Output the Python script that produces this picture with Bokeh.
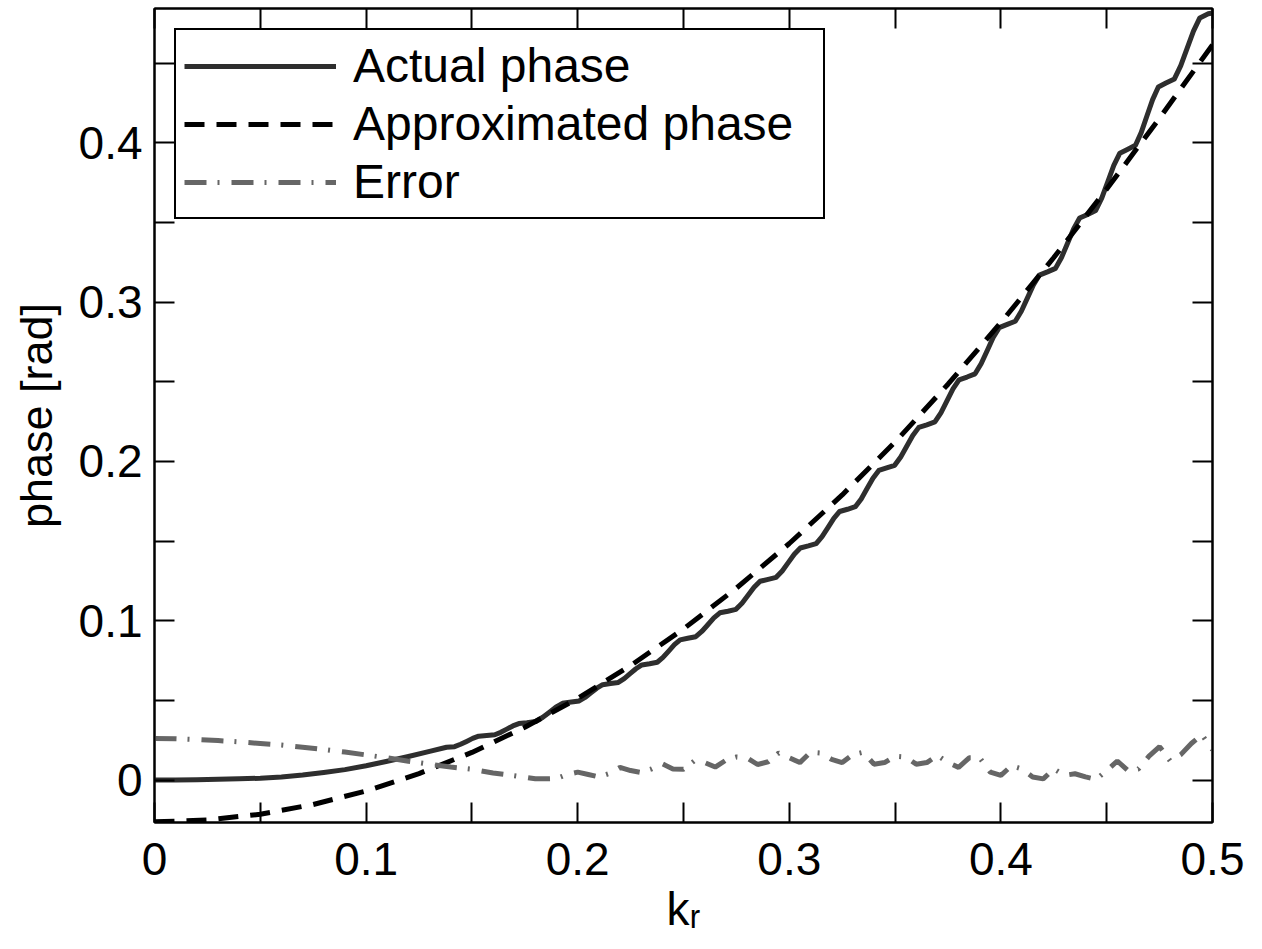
from bokeh.plotting import figure
from bokeh.models import (FixedTicker, LinearAxis, Legend, LegendItem, Range1d,
                          CustomLabelingPolicy)
from bokeh.embed import file_html
from bokeh.resources import INLINE

# ---- data ----
k_actual = [0.000, 0.010, 0.020, 0.030, 0.040, 0.050, 0.060, 0.070, 0.080, 0.090,
            0.100, 0.110, 0.120, 0.130,
            0.138, 0.1418, 0.14465, 0.1475, 0.15035, 0.1532,
            0.157, 0.1608, 0.16365, 0.1665, 0.16935, 0.1722,
            0.176, 0.1802, 0.18335, 0.1865, 0.18965, 0.1928,
            0.197, 0.2007, 0.20348, 0.20625, 0.20903, 0.2118,
            0.2155, 0.2192, 0.22198, 0.22475, 0.22753, 0.2303,
            0.234, 0.2376, 0.2403, 0.243, 0.2457, 0.2484,
            0.252, 0.2558, 0.25865, 0.2615, 0.26435, 0.2672,
            0.271, 0.2748, 0.27765, 0.2805, 0.28335, 0.2862,
            0.290, 0.2938, 0.29665, 0.2995, 0.30235, 0.3052,
            0.309, 0.3127, 0.31548, 0.31825, 0.32103, 0.3238,
            0.3275, 0.3312, 0.33398, 0.33675, 0.33953, 0.3423,
            0.346, 0.3498, 0.35265, 0.3555, 0.35835, 0.3612,
            0.365, 0.3688, 0.37165, 0.3745, 0.37735, 0.3802,
            0.384, 0.3878, 0.39065, 0.3935, 0.39635, 0.3992,
            0.403, 0.4068, 0.40965, 0.4125, 0.41535, 0.4182,
            0.422, 0.4258, 0.42865, 0.4315, 0.43435, 0.4372,
            0.441, 0.4448, 0.44765, 0.4505, 0.45335, 0.4562,
            0.460, 0.4636, 0.4663, 0.469, 0.4717, 0.4744,
            0.478, 0.482, 0.485, 0.488, 0.491, 0.494,
            0.498, 0.500]
phase_actual = [0.0000, 0.0000, 0.0002, 0.0005, 0.0008, 0.0012, 0.0020, 0.0032, 0.0048, 0.0066,
                0.0090, 0.0118, 0.0148, 0.0180,
                0.0206, 0.0210, 0.0225, 0.0243, 0.0262, 0.0276,
                0.0280, 0.0285, 0.0300, 0.0320, 0.0340, 0.0355,
                0.0360, 0.0368, 0.0393, 0.0425, 0.0458, 0.0482,
                0.0490, 0.0497, 0.0519, 0.0548, 0.0577, 0.0599,
                0.0606, 0.0613, 0.0637, 0.0668, 0.0699, 0.0723,
                0.0730, 0.0740, 0.0770, 0.0810, 0.0850, 0.0880,
                0.0890, 0.0900, 0.0933, 0.0975, 0.1018, 0.1050,
                0.1060, 0.1072, 0.1110, 0.1160, 0.1210, 0.1248,
                0.1260, 0.1273, 0.1313, 0.1365, 0.1418, 0.1457,
                0.1470, 0.1484, 0.1528, 0.1585, 0.1643, 0.1686,
                0.1700, 0.1716, 0.1765, 0.1830, 0.1895, 0.1944,
                0.1960, 0.1976, 0.2028, 0.2095, 0.2163, 0.2214,
                0.2230, 0.2248, 0.2305, 0.2380, 0.2455, 0.2512,
                0.2530, 0.2550, 0.2613, 0.2695, 0.2778, 0.2840,
                0.2860, 0.2880, 0.2943, 0.3025, 0.3108, 0.3170,
                0.3190, 0.3212, 0.3280, 0.3370, 0.3460, 0.3528,
                0.3550, 0.3575, 0.3653, 0.3755, 0.3858, 0.3935,
                0.3960, 0.3985, 0.4064, 0.4168, 0.4271, 0.4350,
                0.4375, 0.4401, 0.4484, 0.4593, 0.4701, 0.4784,
                0.4810, 0.4815]

k_approx = [0.000, 0.025, 0.050, 0.075, 0.100, 0.125, 0.150, 0.175, 0.200, 0.225,
            0.250, 0.275, 0.300, 0.325, 0.350, 0.375, 0.400, 0.425, 0.450, 0.475, 0.500]
phase_approx = [-0.0262, -0.0250, -0.0214, -0.0153, -0.0068, 0.0041, 0.0174, 0.0332, 0.0513, 0.0719,
                0.0949, 0.1205, 0.1485, 0.1790, 0.2122, 0.2485, 0.2872, 0.3280, 0.3710, 0.4155, 0.4615]

k_error = [0.00, 0.01, 0.02, 0.03, 0.04, 0.05, 0.06, 0.07, 0.08, 0.09,
           0.10, 0.11, 0.12, 0.13, 0.14, 0.15, 0.16, 0.17, 0.175, 0.18,
           0.185, 0.190, 0.195, 0.200, 0.205, 0.210, 0.215, 0.220, 0.225, 0.230,
           0.235, 0.240, 0.245, 0.250, 0.255, 0.260, 0.265, 0.270, 0.275, 0.280,
           0.285, 0.290, 0.295, 0.300, 0.305, 0.310, 0.315, 0.320, 0.325, 0.330,
           0.335, 0.340, 0.345, 0.350, 0.355, 0.360, 0.365, 0.370, 0.375, 0.380,
           0.385, 0.390, 0.395, 0.400, 0.405, 0.410, 0.415, 0.420, 0.425, 0.430,
           0.435, 0.440, 0.445, 0.450, 0.455, 0.460, 0.465, 0.470, 0.475, 0.480,
           0.485, 0.490, 0.495, 0.500]
phase_error = [0.0262, 0.0260, 0.0255, 0.0248, 0.0240, 0.0230, 0.0220, 0.0206, 0.0192, 0.0176,
               0.0158, 0.0140, 0.0118, 0.0100, 0.0082, 0.0068, 0.0045, 0.0028, 0.0018, 0.0008,
               0.0008, 0.0010, 0.0035, 0.0050, 0.0035, 0.0020, 0.0042, 0.0080, 0.0060, 0.0048,
               0.0070, 0.0102, 0.0070, 0.0068, 0.0120, 0.0110, 0.0082, 0.0125, 0.0145, 0.0140,
               0.0098, 0.0115, 0.0170, 0.0140, 0.0110, 0.0175, 0.0170, 0.0130, 0.0110, 0.0160,
               0.0175, 0.0100, 0.0110, 0.0150, 0.0145, 0.0100, 0.0110, 0.0155, 0.0110, 0.0080,
               0.0140, 0.0140, 0.0050, 0.0030, 0.0090, 0.0070, 0.0020, 0.0008, 0.0070, 0.0030,
               0.0040, 0.0020, 0.0005, 0.0060, 0.0120, 0.0060, 0.0070, 0.0150, 0.0210, 0.0120,
               0.0160, 0.0230, 0.0285, 0.0190]

series_labels = ["Actual phase", "Approximated phase", "Error"]
x_label = "k\u1d63"   # k with subscript r
y_label = "phase [rad]"

x_ticks = [0, 0.1, 0.2, 0.3, 0.4, 0.5]
x_tick_labels = ["0", "0.1", "0.2", "0.3", "0.4", "0.5"]
x_minor = [0.05, 0.15, 0.25, 0.35, 0.45]
y_ticks = [0, 0.1, 0.2, 0.3, 0.4]
y_tick_labels = ["0", "0.1", "0.2", "0.3", "0.4"]
y_minor = [0.05, 0.15, 0.25, 0.35, 0.45]

FONT = "Liberation Sans"

p = figure(width=1250, height=945, output_backend="svg", toolbar_location=None,
           x_range=Range1d(0, 0.5), y_range=Range1d(-0.0266, 0.4843),
           min_border_left=154, min_border_right=38, min_border_top=8, min_border_bottom=123)
p.xgrid.visible = False
p.ygrid.visible = False
p.outline_line_color = "black"
p.outline_line_width = 2
p.background_fill_color = "white"
p.border_fill_color = "white"

r1 = p.line(k_actual, phase_actual, line_color="#2e2e2e", line_width=5, line_join="round")
r2 = p.line(k_approx, phase_approx, line_color="black", line_width=5, line_dash="20 12")
r3 = p.line(k_error, phase_error, line_color="#666666", line_width=5, line_dash="22 11 2 12")

HIDE = "for (const i of indices) { indices.unset(i) }"


def style_axis(ax, ticks, minor, labels=None):
    ax.ticker = FixedTicker(ticks=ticks, minor_ticks=minor)
    ax.axis_line_color = "black"
    ax.axis_line_width = 2
    ax.major_tick_in = 20
    ax.major_tick_out = 0
    ax.minor_tick_in = 20
    ax.minor_tick_out = 0
    ax.major_tick_line_width = 2
    ax.minor_tick_line_width = 2
    ax.major_tick_line_color = "black"
    ax.minor_tick_line_color = "black"
    if labels is not None:
        ax.major_label_overrides = dict(zip(ticks, labels))
        ax.major_label_text_font = FONT
        ax.major_label_text_font_size = "46px"
        ax.major_label_text_color = "black"
    else:
        ax.major_label_text_font_size = "1px"
        ax.major_label_standoff = 0
        ax.major_label_policy = CustomLabelingPolicy(code=HIDE)


xa = p.xaxis[0]
style_axis(xa, x_ticks, x_minor, x_tick_labels)
xa.major_label_standoff = 20
xa.axis_label = x_label
xa.axis_label_text_font = FONT
xa.axis_label_text_font_size = "46px"
xa.axis_label_text_font_style = "normal"
xa.axis_label_text_color = "black"
xa.axis_label_standoff = 5

ya = p.yaxis[0]
style_axis(ya, y_ticks, y_minor, y_tick_labels)
ya.major_label_standoff = 12
ya.axis_label = y_label
ya.axis_label_text_font = FONT
ya.axis_label_text_font_size = "45px"
ya.axis_label_text_font_style = "normal"
ya.axis_label_text_color = "black"
ya.axis_label_standoff = 14

top_ax = LinearAxis()
style_axis(top_ax, x_ticks, x_minor)
p.add_layout(top_ax, "above")
right_ax = LinearAxis()
style_axis(right_ax, y_ticks, y_minor)
p.add_layout(right_ax, "right")

legend = Legend(items=[LegendItem(label=series_labels[0], renderers=[r1]),
                       LegendItem(label=series_labels[1], renderers=[r2]),
                       LegendItem(label=series_labels[2], renderers=[r3])],
                location="top_left", margin=20, padding=8, spacing=3,
                glyph_width=152, glyph_height=44, label_height=44, label_width=462,
                label_standoff=17,
                label_text_font=FONT, label_text_font_size="48px", label_text_color="black",
                border_line_color="black", border_line_width=2, border_line_alpha=1.0,
                background_fill_color="white", background_fill_alpha=1.0)
p.add_layout(legend)

open("out.html", "w").write(file_html(p, INLINE))
